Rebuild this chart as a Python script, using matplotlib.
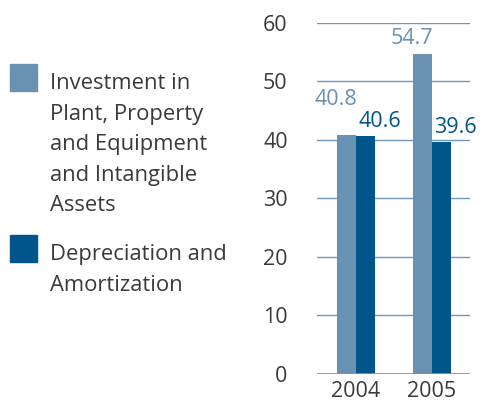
import matplotlib
matplotlib.use('Agg')
import matplotlib.pyplot as plt
from matplotlib.patches import Rectangle
import numpy as np

## Data
years = ['2004', '2005']
investment = [40.8, 54.7]      # Investment in PP&E and intangible assets
depreciation = [40.6, 39.6]    # Depreciation and amortization
series_names = ['Investment in\nPlant, Property\nand Equipment\nand Intangible\nAssets',
                'Depreciation and\nAmortization']
yticks = [0, 10, 20, 30, 40, 50, 60]

## Style
c_light = '#6891b2'
c_dark = '#00558a'
c_grid = '#6f98b8'
c_text = '#3a3a3a'
plt.rcParams['font.family'] = ['Open Sans', 'DejaVu Sans']

fig = plt.figure(figsize=(4.83, 4.03), dpi=100)
ax = fig.add_axes([0.656, 0.072, 0.317, 0.871])

x = np.arange(len(years))
w = 0.25
ax.bar(x - w/2, investment, width=w, color=c_light, zorder=3)
ax.bar(x + w/2, depreciation, width=w, color=c_dark, zorder=3)

# value labels: light one right-aligned, dark one left-aligned at group centre
off_light = [22, 7]
off_dark = [7, 7]
for i in range(len(years)):
    ax.annotate('%.1f' % investment[i], (x[i] + 0.02, investment[i]),
                xytext=(0, off_light[i]), textcoords='offset points',
                ha='right', va='baseline', color=c_light, fontsize=15.5)
    ax.annotate('%.1f' % depreciation[i], (x[i] + 0.03, depreciation[i]),
                xytext=(0, off_dark[i]), textcoords='offset points',
                ha='left', va='baseline', color=c_dark, fontsize=15.5)

ax.set_xlim(-0.513, 1.5)
ax.set_ylim(0, 60)
ax.set_yticks(yticks)
ax.set_xticks(x)
ax.set_xticklabels(years)
for yv in yticks:
    ax.axhline(yv, color=c_grid, lw=2.0 if yv == 0 else 1.0, zorder=1 if yv else 4)
for s in ax.spines.values():
    s.set_visible(False)
ax.tick_params(axis='both', length=0, labelsize=15.5, colors=c_text)
ax.tick_params(axis='y', pad=21)
ax.tick_params(axis='x', pad=5)

# legend on the left
fig.add_artist(Rectangle((10/483, 1-91/403), 27/483, 27/403, color=c_light,
                         transform=fig.transFigure))
fig.add_artist(Rectangle((10/483, 1-262/403), 27/483, 27/403, color=c_dark,
                         transform=fig.transFigure))
fig.text(50/483, 1-73/403, series_names[0], ha='left', va='top', fontsize=15.8,
         color=c_text, linespacing=1.6)
fig.text(50/483, 1-244/403, series_names[1], ha='left', va='top', fontsize=15.8,
         color=c_text, linespacing=1.6)

fig.savefig('out.png', dpi=100)
